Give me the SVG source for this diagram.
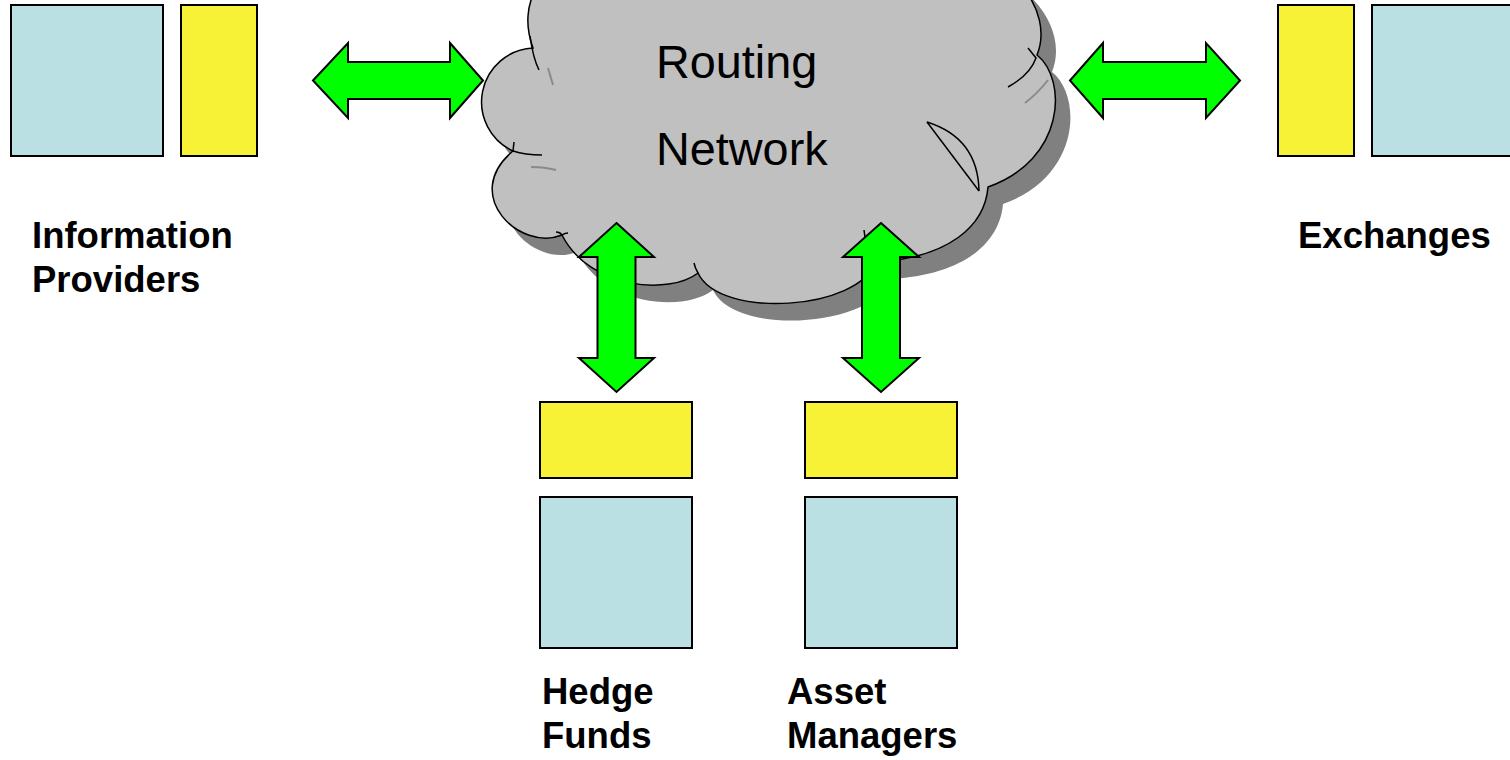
<svg xmlns="http://www.w3.org/2000/svg" xmlns:xlink="http://www.w3.org/1999/xlink" width="1510" height="760" viewBox="0 0 1510 760">
<style>
.blue{fill:#BBE0E3;stroke:#000;stroke-width:2}
.yel{fill:#F8F236;stroke:#000;stroke-width:2}
.arr{fill:#00FF00;stroke:#000;stroke-width:2;stroke-linejoin:miter}
.lbl{font-family:"Liberation Sans",Arial,sans-serif;font-weight:bold;font-size:36.5px;fill:#000}
.ctext{font-family:"Liberation Sans",Arial,sans-serif;font-size:46.8px;fill:#000}
.inner{fill:none;stroke:#000;stroke-width:1.5}
.ginner{fill:none;stroke:#8a8a8a;stroke-width:2}
</style>
<defs>
<path id="cloudShape" d="M533,48 C517,5 538,-40 600,-50 L950,-50 C1010,-45 1055,10 1037,55 C1068,80 1065,160 988,187 C985,225 950,258 875,262 C860,310 720,320 698,273 C670,295 590,290 562,235 C520,252 460,195 513,151 A54,54 0 0 1 533,48 Z"/>
</defs>
<g id="cloud">
<use xlink:href="#cloudShape" href="#cloudShape" transform="translate(15,17)" fill="#808080"/>
<use xlink:href="#cloudShape" href="#cloudShape" fill="#C0C0C0" stroke="#000" stroke-width="1.5"/>
<path class="inner" d="M530,36 Q533,58 539,70"/>
<path class="ginner" d="M548,68 L553,85"/>
<path class="inner" d="M513,151 Q525,155 542,155"/>
<path class="inner" d="M513,151 L514,142"/>
<path class="ginner" d="M531,167 Q545,167 556,170"/>
<path class="inner" d="M562,235 Q560,232 556,232"/>
<path class="inner" d="M562,235 Q565,233 568,233"/>
<path class="inner" d="M698,273 Q695,268 694,263"/>
<path class="inner" d="M875,262 Q866,250 864,230"/>
<path class="inner" d="M927,122 L979,191"/>
<path class="inner" d="M927,122 Q978,138 979,191"/>
<path class="inner" d="M1028,48 L1036,58 Q1030,75 1008,87"/>
<path class="ginner" d="M1048,80 Q1038,93 1025,103"/>
<text class="ctext" x="656" y="78">Routing</text>
<text class="ctext" x="656" y="165">Network</text>
</g>
<g id="information-providers">
<rect class="blue" x="11" y="5" width="152" height="151"/>
<rect class="yel" x="181" y="5" width="76" height="151"/>
<text class="lbl" x="32" y="248">Information</text>
<text class="lbl" x="32" y="292">Providers</text>
</g>
<g id="exchanges">
<rect class="yel" x="1278" y="5" width="76" height="151"/>
<rect class="blue" x="1372" y="5" width="152" height="151"/>
<text class="lbl" x="1298" y="248">Exchanges</text>
</g>
<g id="hedge-funds">
<rect class="yel" x="540" y="402" width="152" height="76"/>
<rect class="blue" x="540" y="497" width="152" height="151"/>
<text class="lbl" x="542" y="704">Hedge</text>
<text class="lbl" x="542" y="748">Funds</text>
</g>
<g id="asset-managers">
<rect class="yel" x="805" y="402" width="152" height="76"/>
<rect class="blue" x="805" y="497" width="152" height="151"/>
<text class="lbl" x="787" y="704">Asset</text>
<text class="lbl" x="787" y="748">Managers</text>
</g>
<g id="connectors">
<polygon class="arr" points="313,80.5 348,43 348,62 450,62 450,43 483,80.5 450,118 450,99 348,99 348,118"/>
<polygon class="arr" points="1070,80.5 1103,43 1103,62 1206,62 1206,43 1240,80.5 1206,118 1206,99 1103,99 1103,118"/>
<polygon class="arr" points="616.5,223 654,257 635.5,257 635.5,358 654,358 616.5,392 579,358 597.5,358 597.5,257 579,257"/>
<polygon class="arr" points="881,223 919,257 900,257 900,358 919,358 881,392 843,358 862,358 862,257 843,257"/>
</g>
</svg>
